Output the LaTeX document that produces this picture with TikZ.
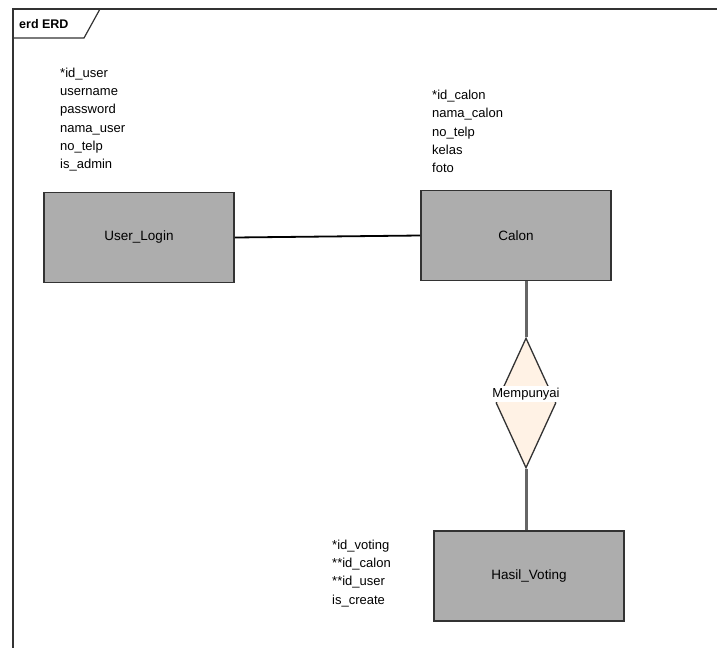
\documentclass[tikz,border=0pt]{standalone}
\usepackage{fontspec}
\setmainfont{Liberation Sans}
\usetikzlibrary{shapes.geometric, positioning}

\begin{document}
\begin{tikzpicture}[x=1pt, y=-1pt,
        entity/.style={draw=black!80, line width=1.8pt, fill=black!32, minimum width=190pt, minimum height=90pt, font=\fontsize{13.5}{16}\selectfont},
        attrs/.style={align=left, anchor=north west, inner sep=0pt, font=\fontsize{13}{18.3}\selectfont},
        link/.style={draw=black!60, line width=3pt}]
            \useasboundingbox (0,0) rectangle (717,648);
            % frame and tab
            \draw[black!80, line width=1.4pt] (717,9) -- (13,9) -- (13,648);
            \draw[black!80, line width=1.2pt] (13,38) -- (84,38) -- (100,9);
            \node[anchor=base west, inner sep=0pt, font=\bfseries\fontsize{12.5}{14}\selectfont] (frametitle) at (19,28) {erd ERD};

            \node[entity] (userlogin) at (139,237.5) {User\_Login};
            \node[entity] (calon) at (516,235.5) {Calon};
            \node[entity] (hasil) at (529,576) {Hasil\_Voting};
            \node[diamond, draw=black!80, line width=1.3pt, fill=orange!10, minimum width=60pt, minimum height=130pt, inner sep=0pt] (punya) at (526,403) {};
            \node[fill=white, inner sep=1.5pt, font=\fontsize{13}{16}\selectfont] (punyalabel) at ([yshift=9pt]punya.center) {Mempunyai};

            \node[attrs] (userattr) at (60,67.5) {*id\_user\\username\\password\\nama\_user\\no\_telp\\is\_admin};
            \node[attrs] (calonattr) at (432,90) {*id\_calon\\nama\_calon\\no\_telp\\kelas\\foto};
            \node[attrs] (hasilattr) at (332,539.5) {*id\_voting\\**id\_calon\\**id\_user\\is\_create};

            \draw[line width=1.8pt] (userlogin.east) -- (calon.west);
            \draw[link] (punya.north) -- (punya.north |- calon.south);
            \draw[link] (punya.south) -- (punya.south |- hasil.north);
        \end{tikzpicture}
\end{document}
